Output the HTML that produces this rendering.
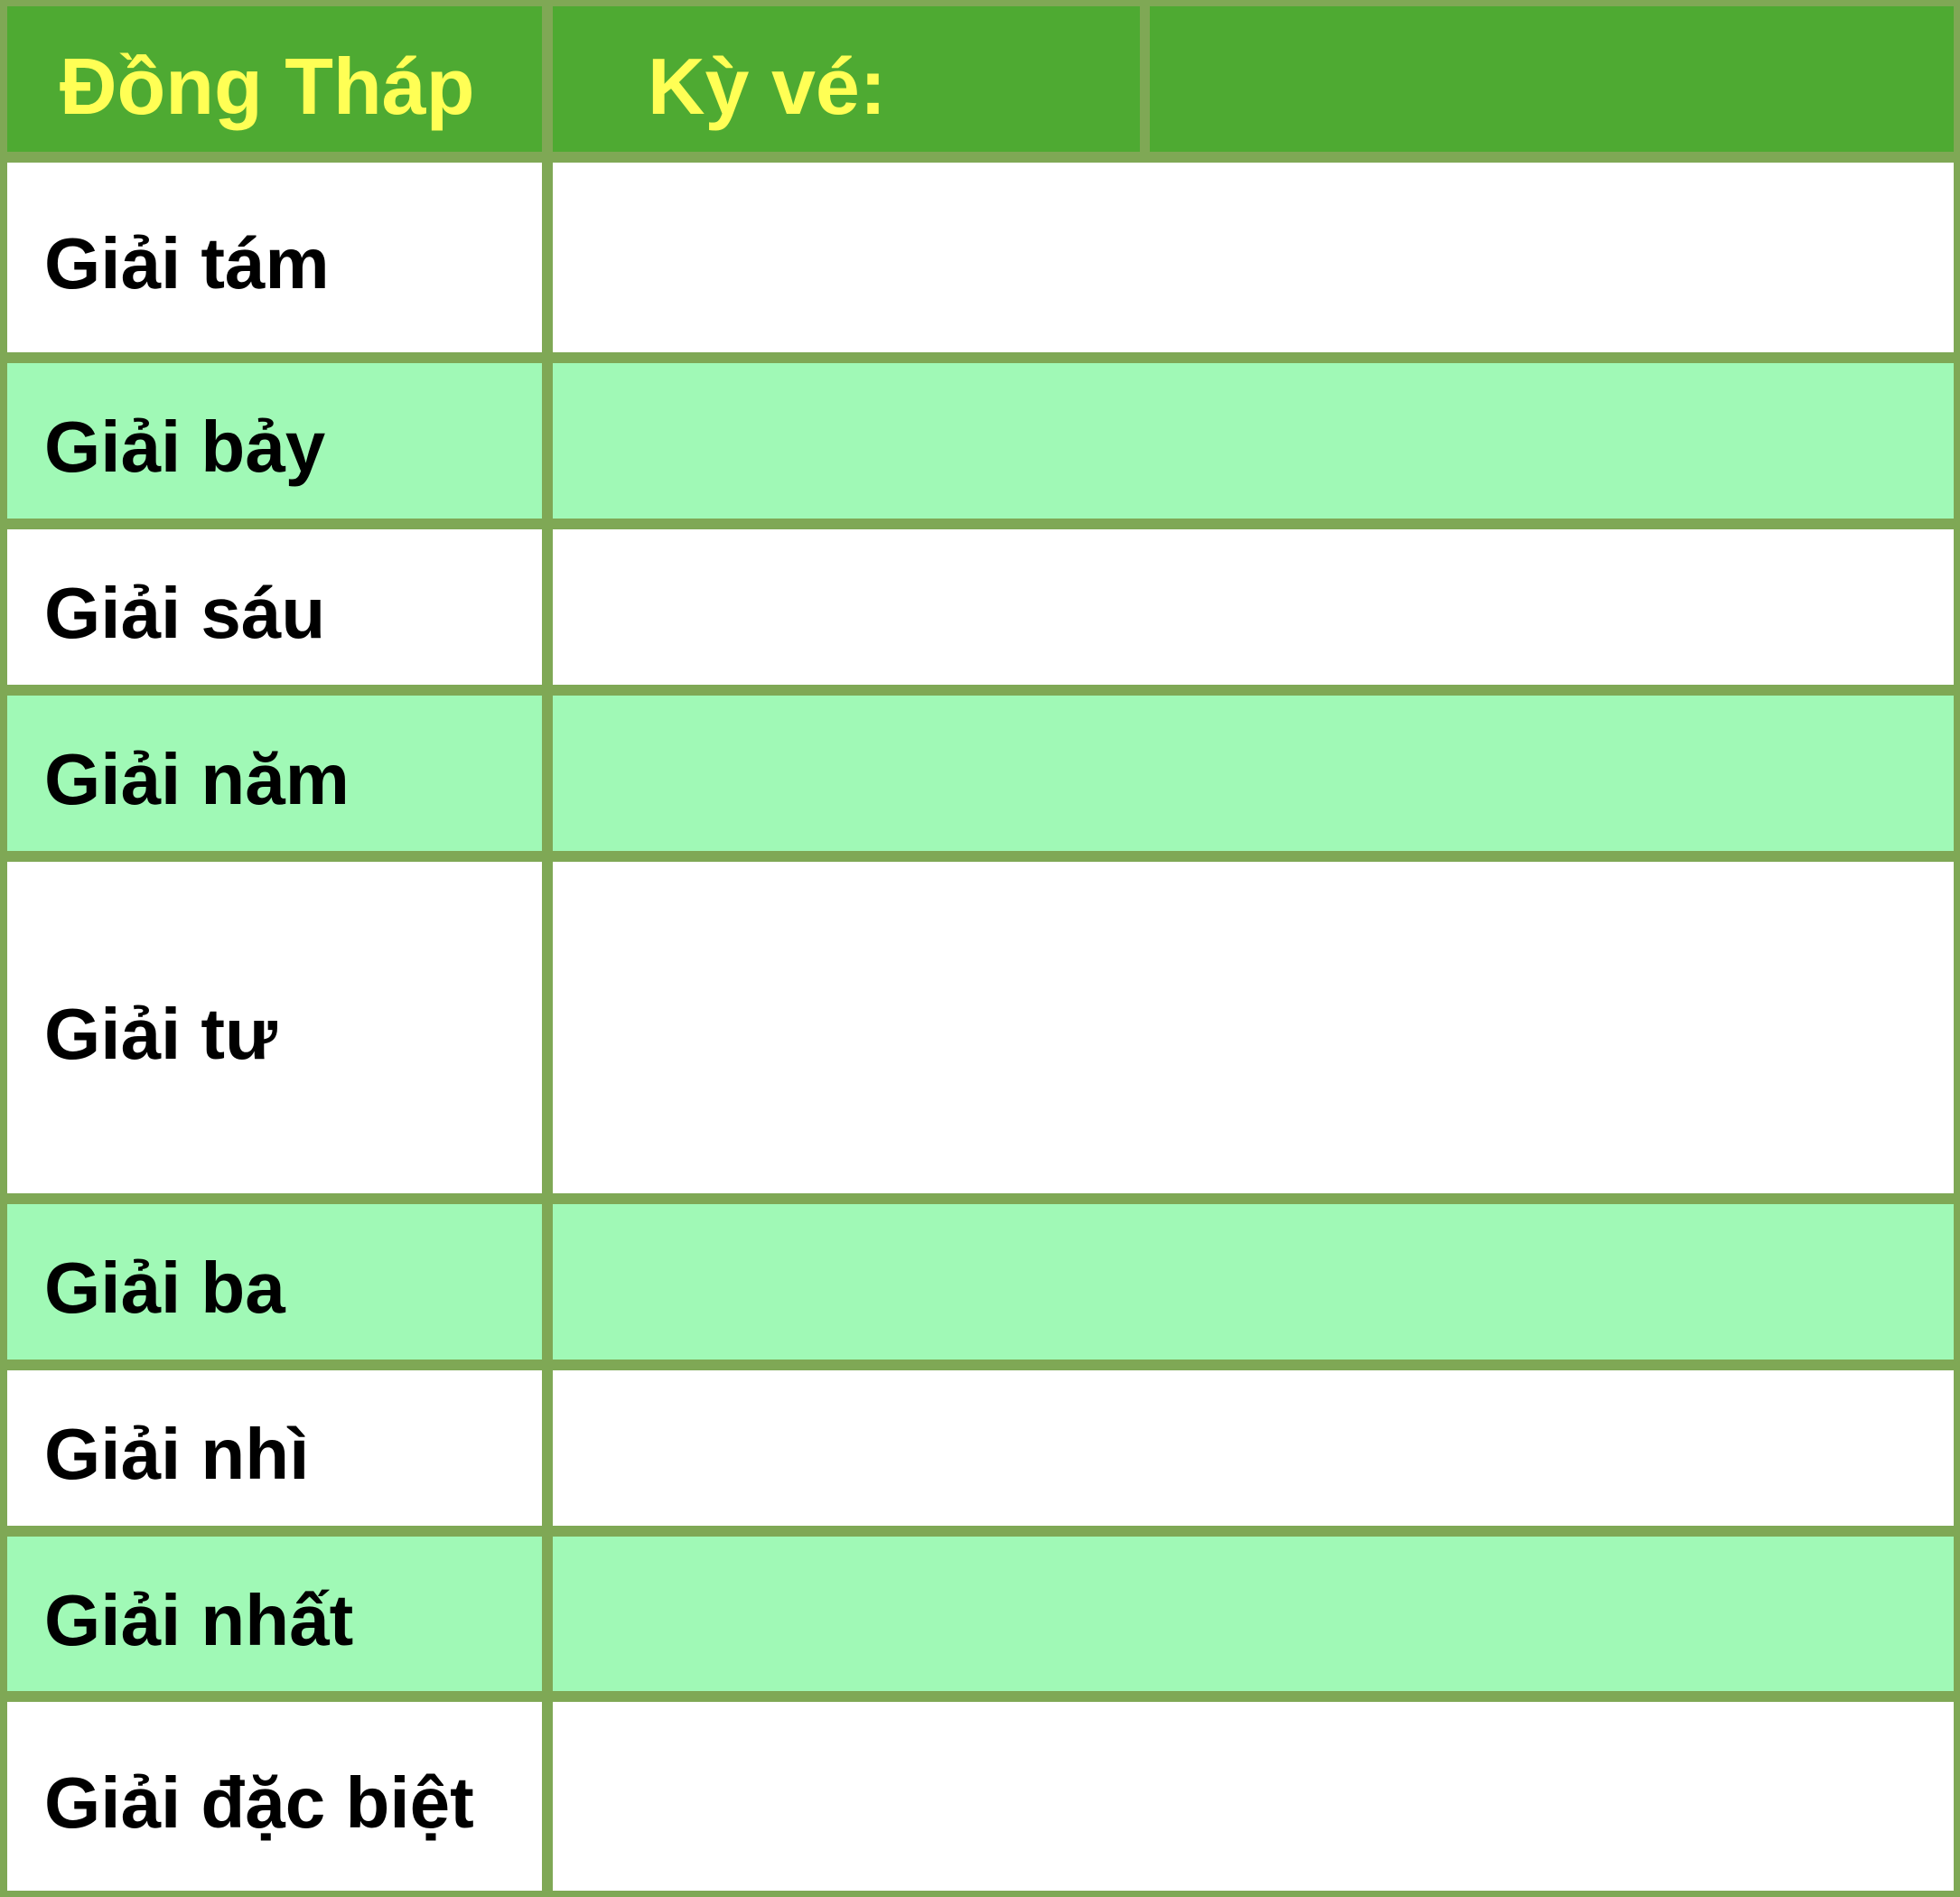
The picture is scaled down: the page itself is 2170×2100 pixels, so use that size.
<!DOCTYPE html>
<html><head><meta charset="utf-8"><style>
body{margin:0;width:2170px;height:2100px;background:#7fa855;position:relative;overflow:hidden;font-family:"Liberation Sans",sans-serif;font-weight:bold}
.c{position:absolute;display:flex;align-items:center;box-sizing:border-box}
.h{background:#4eaa32;color:#ffff55;font-size:88px;padding-top:16px}
.w{background:#fff}.g{background:#a0f9b6}
.l{font-size:80px;color:#000;padding-left:41px;padding-top:14px}
</style></head><body>
<div class="c h" style="left:8px;top:7px;width:592px;height:161px;padding-left:58px">Đồng Tháp</div>
<div class="c h" style="left:612px;top:7px;width:650px;height:161px;padding-left:105px">Kỳ vé:</div>
<div class="c h" style="left:1273px;top:7px;width:890px;height:161px"></div>
<script>
const labels=["Giải tám","Giải bảy","Giải sáu","Giải năm","Giải tư","Giải ba","Giải nhì","Giải nhất","Giải đặc biệt"];
const tops=[180,402,586,770,954,1333,1517,1701,1884];
const bottoms=[390,574,758,942,1321,1505,1689,1872,2093];
const names=["prize-8","prize-7","prize-6","prize-5","prize-4","prize-3","prize-2","prize-1","special-prize"];
labels.forEach((t,i)=>{
  const cls=i%2?"g":"w";
  const a=document.createElement('div');
  a.className="c l "+cls;
  a.style.cssText=`left:8px;top:${tops[i]}px;width:592px;height:${bottoms[i]-tops[i]}px`;
  a.textContent=t;
  
  
  document.body.appendChild(a);
  const b=document.createElement('div');
  b.className="c "+cls;
  b.style.cssText=`left:612px;top:${tops[i]}px;width:1551px;height:${bottoms[i]-tops[i]}px`;
  
  
  document.body.appendChild(b);
});
</script>
</body></html>
